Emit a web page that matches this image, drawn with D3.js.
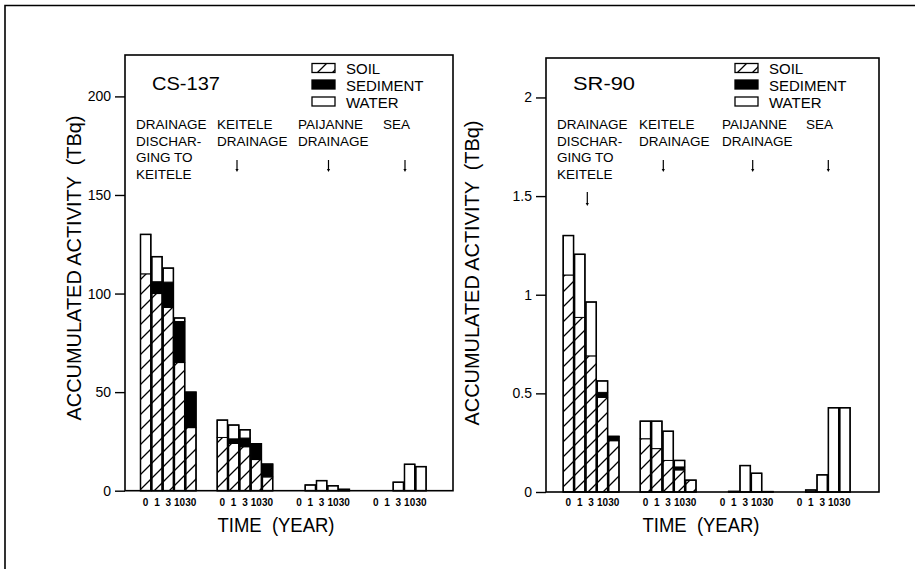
<!DOCTYPE html>
<html><head><meta charset="utf-8">
<script src="https://cdn.jsdelivr.net/npm/d3@7"></script>
<style>
html,body{margin:0;padding:0;background:#fff;}
svg{display:block;font-family:"Liberation Sans",Arial,Helvetica,sans-serif;}
</style>
</head><body>
<svg id="chart" width="915" height="569"></svg>
<script>
// ---------------- DATA ----------------
const groups = ["DRAINAGE DISCHARGING TO KEITELE", "KEITELE DRAINAGE", "PAIJANNE DRAINAGE", "SEA"];
const groupLabelLines = [["DRAINAGE", "DISCHAR-", "GING TO", "KEITELE"], ["KEITELE", "DRAINAGE"], ["PAIJANNE", "DRAINAGE"], ["SEA"]];
const years = ["0", "1", "3", "10", "30"];
const components = ["SOIL", "SEDIMENT", "WATER"];

// CS-137 (TBq), rows = groups, columns = years
const cs137Soil     = [[110, 100, 93, 65, 32], [27, 24, 22.3, 15.8, 7], [0, 0, 0, 0, 0], [0, 0, 0, 0, 0]];
const cs137Sediment = [[0, 6, 12.8, 20.8, 18], [0, 2.3, 4.4, 7.5, 6.5], [0, 0, 0, 0, 0], [0, 0, 0, 0, 0]];
const cs137Water    = [[20, 12.7, 7.1, 1.8, 0], [8.8, 7, 4.2, 0.5, 0], [0, 2.9, 5.1, 2.5, 0.7], [0, 0, 4.3, 13.4, 12.2]];

// SR-90 (TBq)
const sr90Soil     = [[1.1, 0.885, 0.69, 0.48, 0.26], [0.27, 0.22, 0.16, 0.112, 0.06], [0, 0, 0, 0, 0], [0, 0, 0, 0, 0]];
const sr90Sediment = [[0, 0, 0, 0.025, 0.02], [0, 0, 0, 0.015, 0], [0, 0, 0, 0, 0], [0, 0, 0, 0, 0]];
const sr90Water    = [[0.2, 0.32, 0.273, 0.058, 0.002], [0.089, 0.139, 0.148, 0.033, 0], [0, 0.003, 0.134, 0.095, 0.002], [0, 0.01, 0.087, 0.427, 0.427]];

const cs137YTicks = [0, 50, 100, 150, 200];
const sr90YTicks = [0, 0.5, 1, 1.5, 2];
const chartTitles = ["CS-137", "SR-90"];
const xTitle = "TIME  (YEAR)";
const yTitle = "ACCUMULATED ACTIVITY  (TBq)";

// ---------------- LAYOUT ----------------
const layouts = [
  { x0: 125, x1: 453, y0: 55, y1: 490.7, yMax: 221, gx0: 140, gx1: 426.6,
    titleX: 152, legX: 312, legTextX: 346, colX: [136, 217, 298, 383],
    arrowX: [null, 237, 328.5, 405], yTitleX: 81, yTitleY: 268, xTitleX: 276 },
  { x0: 546, x1: 879, y0: 58, y1: 492, yMax: 2.2, gx0: 562.7, gx1: 850.6,
    titleX: 573, legX: 735, legTextX: 769, colX: [557, 639, 722, 806],
    arrowX: [587.3, 663.3, 752.7, 828.3], yTitleX: 479, yTitleY: 273, xTitleX: 701 }
];
const datasets = [
  { soil: cs137Soil, sed: cs137Sediment, water: cs137Water, ticks: cs137YTicks },
  { soil: sr90Soil, sed: sr90Sediment, water: sr90Water, ticks: sr90YTicks }
];

const svg = d3.select("#chart");
const defs = svg.append("defs");
const pat = defs.append("pattern").attr("id", "hatch")
  .attr("patternUnits", "userSpaceOnUse").attr("width", 15).attr("height", 15);
pat.append("rect").attr("width", 15).attr("height", 15).attr("fill", "#fff");
pat.append("path").attr("d", "M0,15 L15,0 M-7.5,7.5 L7.5,-7.5 M7.5,22.5 L22.5,7.5")
  .attr("stroke", "#000").attr("stroke-width", 1.3);

// outer frame (top and left edges)
svg.append("path").attr("d", "M5,569 V5.5 H915").attr("fill", "none")
  .attr("stroke", "#000").attr("stroke-width", 1.6);

layouts.forEach((L, ci) => {
  const D = datasets[ci];
  const g = svg.append("g");
  const y = d3.scaleLinear().domain([0, L.yMax]).range([L.y1, L.y0]);
  const xg = d3.scaleBand().domain(groups).range([L.gx0, L.gx1]).paddingInner(0.263).paddingOuter(0);
  const xi = d3.scaleBand().domain(years).range([0, xg.bandwidth()]).padding(0);
  const bw = xi.bandwidth() - 1;

  // bars
  groups.forEach((grp, gi) => {
    years.forEach((yr, yi) => {
      const vals = [D.soil[gi][yi], D.sed[gi][yi], D.water[gi][yi]];
      const total = d3.sum(vals);
      if (total <= 0) return;
      const bx = xg(grp) + xi(yr) + 0.5;
      let base = 0;
      const fills = ["url(#hatch)", "#000", "#fff"];
      vals.forEach((v, k) => {
        if (v <= 0) return;
        g.append("rect").attr("x", bx).attr("width", bw)
          .attr("y", y(base + v)).attr("height", y(base) - y(base + v))
          .attr("fill", fills[k]).attr("stroke", "#000").attr("stroke-width", 1);
        base += v;
      });
      g.append("rect").attr("x", bx).attr("width", bw)
        .attr("y", y(total)).attr("height", Math.max(0, y(0) - y(total)))
        .attr("fill", "none").attr("stroke", "#000").attr("stroke-width", 1.5);
    });
    // year labels
    years.forEach(yr => {
      g.append("text").attr("x", xg(grp) + xi(yr) + xi.bandwidth() / 2).attr("y", 506)
        .attr("text-anchor", "middle").attr("font-size", 10).attr("font-weight", "bold")
        .text(yr);
    });
  });

  // frame
  g.append("rect").attr("x", L.x0).attr("y", L.y0).attr("width", L.x1 - L.x0).attr("height", L.y1 - L.y0)
    .attr("fill", "none").attr("stroke", "#000").attr("stroke-width", 1.6);

  // y axis
  const ax = g.append("g").attr("transform", `translate(${L.x0},0)`)
    .call(d3.axisLeft(y).tickValues(D.ticks).tickSize(10).tickPadding(4).tickFormat(d => String(d)));
  ax.select(".domain").remove();
  ax.selectAll(".tick line").attr("stroke-width", 1.4);
  ax.selectAll(".tick text").attr("font-size", 14).attr("font-family", "Liberation Sans, Arial, sans-serif").attr("fill", "#000");

  // chart title
  g.append("text").attr("x", L.titleX).attr("y", 90).attr("font-size", 19)
    .attr("textLength", ci === 0 ? 68 : 62).attr("lengthAdjust", "spacingAndGlyphs")
    .text(chartTitles[ci]);

  // legend
  const boxTops = [63.5, 80, 97];
  const textYs = [74, 90.7, 108.3];
  const legFills = ["url(#hatch)", "#000", "#fff"];
  components.forEach((c, k) => {
    g.append("rect").attr("x", L.legX).attr("y", boxTops[k]).attr("width", 23).attr("height", 9)
      .attr("fill", legFills[k]).attr("stroke", "#000").attr("stroke-width", 1.3);
    g.append("text").attr("x", L.legTextX).attr("y", textYs[k]).attr("font-size", 15).text(c);
  });

  // region labels
  groupLabelLines.forEach((lines, gi) => {
    lines.forEach((ln, li) => {
      g.append("text").attr("x", L.colX[gi]).attr("y", 129.3 + li * 16.4)
        .attr("font-size", 13.5).text(ln);
    });
    const axp = L.arrowX[gi];
    if (axp != null) {
      const top = gi === 0 ? 192 : 160, bot = gi === 0 ? 206 : 172;
      g.append("line").attr("x1", axp).attr("x2", axp).attr("y1", top).attr("y2", bot - 2)
        .attr("stroke", "#000").attr("stroke-width", 1.2);
      g.append("path").attr("d", `M${axp - 1.6},${bot - 3} L${axp + 1.6},${bot - 3} L${axp},${bot} Z`)
        .attr("fill", "#000");
    }
  });

  // axis titles
  g.append("text").attr("x", L.xTitleX).attr("y", 531.7).attr("text-anchor", "middle")
    .attr("font-size", 20).attr("textLength", 117).attr("lengthAdjust", "spacingAndGlyphs")
    .style("white-space", "pre").text(xTitle);
  g.append("text").attr("transform", `translate(${L.yTitleX},${L.yTitleY}) rotate(-90)`)
    .attr("text-anchor", "middle").attr("font-size", 20)
    .attr("textLength", 305).attr("lengthAdjust", "spacingAndGlyphs")
    .style("white-space", "pre").text(yTitle);
});
</script>
</body></html>
